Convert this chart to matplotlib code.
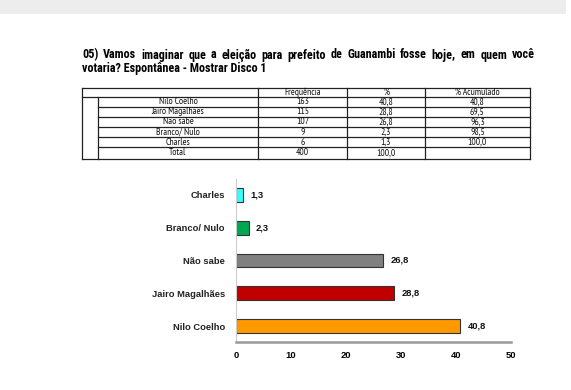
import matplotlib
matplotlib.use("Agg")
import matplotlib.pyplot as plt
from matplotlib.lines import Line2D
from matplotlib.patches import Rectangle

# ---- data ----
categories = ["Nilo Coelho", "Jairo Magalhães", "Não sabe", "Branco/ Nulo", "Charles"]
frequencia = [163, 115, 107, 9, 6]
percent = [40.8, 28.8, 26.8, 2.3, 1.3]
acumulado = [40.8, 69.5, 96.3, 98.5, 100.0]
total_freq = 400
total_pct = 100.0
xticks = [0, 10, 20, 30, 40, 50]
bar_colors = ["#FF9900", "#C00000", "#808080", "#00A651", "#33FFFF"]
headers = ["Frequência", "%", "% Acumulado"]

title_line1 = "05) Vamos imaginar que a eleição para prefeito de Guanambi fosse hoje, em quem você"
title_line2 = "votaria? Espontânea - Mostrar Disco 1"

def fmt(v):
    return f"{v:.1f}".replace(".", ",")

W, H = 571, 390
fig = plt.figure(figsize=(W / 100, H / 100), dpi=100)
fig.patch.set_facecolor("white")
renderer = fig.canvas.get_renderer()

NARROW = ["Roboto Condensed", "PT Sans Narrow", "Archivo Narrow", "Liberation Sans", "DejaVu Sans"]
TNARROW = ["PT Sans Narrow", "Roboto Condensed", "Archivo Narrow", "Liberation Sans", "DejaVu Sans"]
SANS = ["Liberation Sans", "DejaVu Sans"]

def fx(x):
    return x / W

def fy(y):
    return 1 - y / H

def measure(s, size, family, weight="normal"):
    t = fig.text(0, 0, s, fontsize=size, family=family, fontweight=weight)
    w = t.get_window_extent(renderer).width
    t.remove()
    return w

def fit_size(s, target_px, family, weight="normal"):
    return 10 * target_px / measure(s, 10, family, weight)

# top gray band (scan header)
fig.patches.append(Rectangle((0, fy(14)), fx(566), 14 / H, transform=fig.transFigure,
                             facecolor="#EDEDED", edgecolor="none"))

# ---- title ----
x_left, x_right = 82, 535
tsize = fit_size(title_line2, 186, NARROW, "bold")
words = title_line1.split(" ")
widths = [measure(w, tsize, NARROW, "bold") for w in words]
gap = (x_right - x_left - sum(widths)) / (len(words) - 1)
if gap < 2:
    tsize *= (x_right - x_left - 2 * (len(words) - 1)) / sum(widths)
    widths = [measure(w, tsize, NARROW, "bold") for w in words]
    gap = (x_right - x_left - sum(widths)) / (len(words) - 1)
x = x_left
for w, wd in zip(words, widths):
    fig.text(fx(x), fy(58.5), w, fontsize=tsize, fontweight="bold", family=NARROW,
             ha="left", va="baseline")
    x += wd + gap
fig.text(fx(x_left), fy(72), title_line2, fontsize=tsize, fontweight="bold", family=NARROW,
         ha="left", va="baseline")

# ---- table ----
lc = "#222222"
tx0, tx_in, tx1 = 82, 98, 530
col_edges = [258, 347, 425, 530]
row_lines = [88, 97, 107, 117, 127, 137, 147, 159]

def hline(y, x0, x1, lw=0.9):
    fig.lines.append(Line2D([fx(x0), fx(x1)], [fy(y), fy(y)], transform=fig.transFigure,
                            color=lc, lw=lw))

def vline(x, y0, y1, lw=0.9):
    fig.lines.append(Line2D([fx(x), fx(x)], [fy(y0), fy(y1)], transform=fig.transFigure,
                            color=lc, lw=lw))

hline(row_lines[0], tx0, tx1)
hline(row_lines[1], tx0, tx1)
for y in row_lines[2:-1]:
    hline(y, tx_in, tx1)
hline(row_lines[-1], tx0, tx1)
vline(tx0, row_lines[0], row_lines[-1])
vline(tx_in, row_lines[1], row_lines[-1])
for cx in col_edges:
    vline(cx, row_lines[0], row_lines[-1])

col_centers = [(col_edges[i] + col_edges[i + 1]) / 2 for i in range(3)]
label_center = (tx_in + col_edges[0]) / 2
tfs = min(fit_size("Jairo Magalhães", 53, TNARROW), 8)

def ttext(x, y, s):
    fig.text(fx(x), fy(y), s, fontsize=tfs, family=TNARROW, ha="center", va="center",
             color="#111111")

for h, cx in zip(headers, col_centers):
    ttext(cx, (row_lines[0] + row_lines[1]) / 2, h)
for i, cat in enumerate(categories):
    yc = (row_lines[i + 1] + row_lines[i + 2]) / 2
    ttext(label_center, yc, cat)
    ttext(col_centers[0], yc, str(frequencia[i]))
    ttext(col_centers[1], yc, fmt(percent[i]))
    ttext(col_centers[2], yc, fmt(acumulado[i]))
yc = (row_lines[-2] + row_lines[-1]) / 2
ttext(label_center, yc, "Total")
ttext(col_centers[0], yc, str(total_freq))
ttext(col_centers[1], yc, fmt(total_pct))

# ---- bar chart ----
ax_l, ax_r, ax_b, ax_t = 236, 511, 342.4, 178.6
ax = fig.add_axes([fx(ax_l), fy(ax_b), fx(ax_r - ax_l), (ax_b - ax_t) / H])
cfs = fit_size("Jairo Magalhães", 73, SANS, "bold")
ypos = list(range(len(categories)))
ax.barh(ypos, percent, height=0.42, color=bar_colors, edgecolor="#333333", linewidth=0.8)
for yv, v in zip(ypos, percent):
    ax.text(v + 1.3, yv, fmt(v), fontsize=cfs, fontweight="bold", family=SANS,
            ha="left", va="center", color="#111111")
ax.set_xlim(0, 50)
ax.set_ylim(-0.5, 4.5)
ax.set_xticks(xticks)
ax.set_xticklabels([str(t) for t in xticks], fontsize=cfs, fontweight="bold", family=SANS)
ax.tick_params(axis="x", length=0, pad=6)
ax.set_yticks(ypos)
ax.set_yticklabels(categories, fontsize=cfs, fontweight="bold", family=SANS, color="#222222")
ax.tick_params(axis="y", length=0, pad=8)
for s in ["top", "right"]:
    ax.spines[s].set_visible(False)
ax.spines["left"].set_color("#CCCCCC")
ax.spines["left"].set_linewidth(0.8)
ax.spines["bottom"].set_color("#999999")
ax.spines["bottom"].set_linewidth(1.8)
ax.set_facecolor("none")

fig.savefig("out.png", dpi=100)
